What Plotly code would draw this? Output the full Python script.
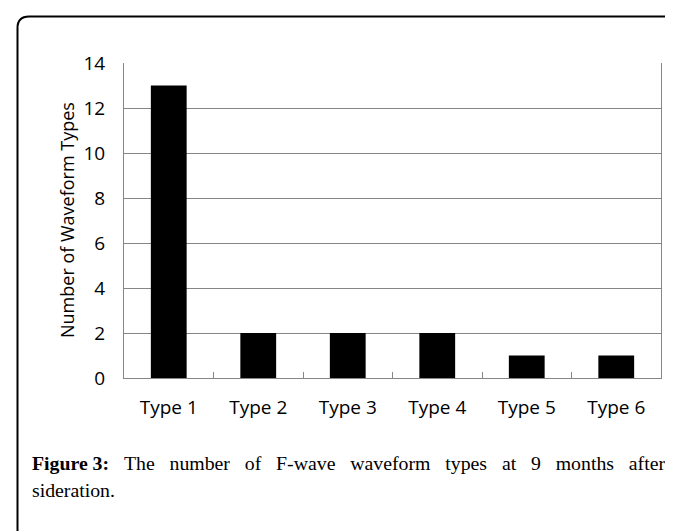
"""Bar chart: number of F-wave waveform types at 9 months after sideration."""

import plotly.graph_objects as go

categories = ["Type 1", "Type 2", "Type 3", "Type 4", "Type 5", "Type 6"]
counts = [13, 2, 2, 2, 1, 1]
y_ticks = [0, 2, 4, 6, 8, 10, 12, 14]

y_title = "Number of Waveform Types"
caption_bold = "Figure 3:"
caption_line1 = "The number of F-wave waveform types at 9 months after"
caption_line2 = "sideration."

W, H = 673, 531
L, R, T, B = 116, 20, 55, 161
GRID = "#868686"
SANS = "Open Sans"
SERIF = "Liberation Serif"
GAP = "&nbsp;" * 3  # widen word gaps to mimic the justified caption


def px(x, y):
    """Pixel position -> paper coordinates."""
    pw, ph = W - L - R, H - T - B
    return (x - L) / pw, (H - B - y) / ph


fig = go.Figure()
fig.add_trace(
    go.Bar(
        x=categories,
        y=counts,
        marker=dict(color="black", line=dict(width=0)),
        showlegend=False,
    )
)

# rounded frame around the figure (runs off the right and bottom edges)
x0, y0 = px(9.5, 560)
x1, y1 = px(9.5, 20)
x2, y2 = px(9.5, 8.5)
x3, y3 = px(21, 8.5)
x4, _ = px(690, 8.5)
frame = f"M {x0},{y0} L {x1},{y1} Q {x2},{y2} {x3},{y3} L {x4},{y3}"
fig.add_shape(
    type="path", path=frame, xref="paper", yref="paper",
    line=dict(color="black", width=2),
)

ax, ay = px(59, 212)
fig.add_annotation(
    text=y_title, x=ax, y=ay, xref="paper", yref="paper",
    textangle=-90, showarrow=False, xanchor="center", yanchor="middle",
    font=dict(family=SANS, size=18, color="black"),
)

cx, cy1 = px(22, 455)
_, cy2 = px(22, 482)
fig.add_annotation(
    text=f"<b>{caption_bold}</b>{GAP}" + caption_line1.replace(" ", GAP),
    x=cx, y=cy1, xref="paper", yref="paper", showarrow=False,
    xanchor="left", yanchor="middle", align="left",
    font=dict(family=SERIF, size=19.8, color="black"),
)
fig.add_annotation(
    text=caption_line2, x=cx, y=cy2, xref="paper", yref="paper", showarrow=False,
    xanchor="left", yanchor="middle", align="left",
    font=dict(family=SERIF, size=19.8, color="black"),
)

fig.update_layout(
    width=W,
    height=H,
    margin=dict(l=L, r=R, t=T, b=B, autoexpand=False),
    paper_bgcolor="white",
    plot_bgcolor="white",
    bargap=0.6,
    xaxis=dict(
        type="category",
        showline=True, linecolor=GRID, linewidth=1,
        ticks="inside", tickson="boundaries", ticklen=6, tickcolor=GRID,
        showgrid=False,
        tickfont=dict(family=SANS, size=19, color="black"),
        ticklabelstandoff=12,
    ),
    yaxis=dict(
        range=[0, 14], tickvals=y_ticks,
        showline=True, mirror=True, linecolor=GRID, linewidth=1,
        gridcolor=GRID, gridwidth=1, zeroline=False,
        ticks="",
        tickfont=dict(family=SANS, size=19, color="black"),
        ticklabelstandoff=14,
    ),
)

fig.write_html("out.html")
